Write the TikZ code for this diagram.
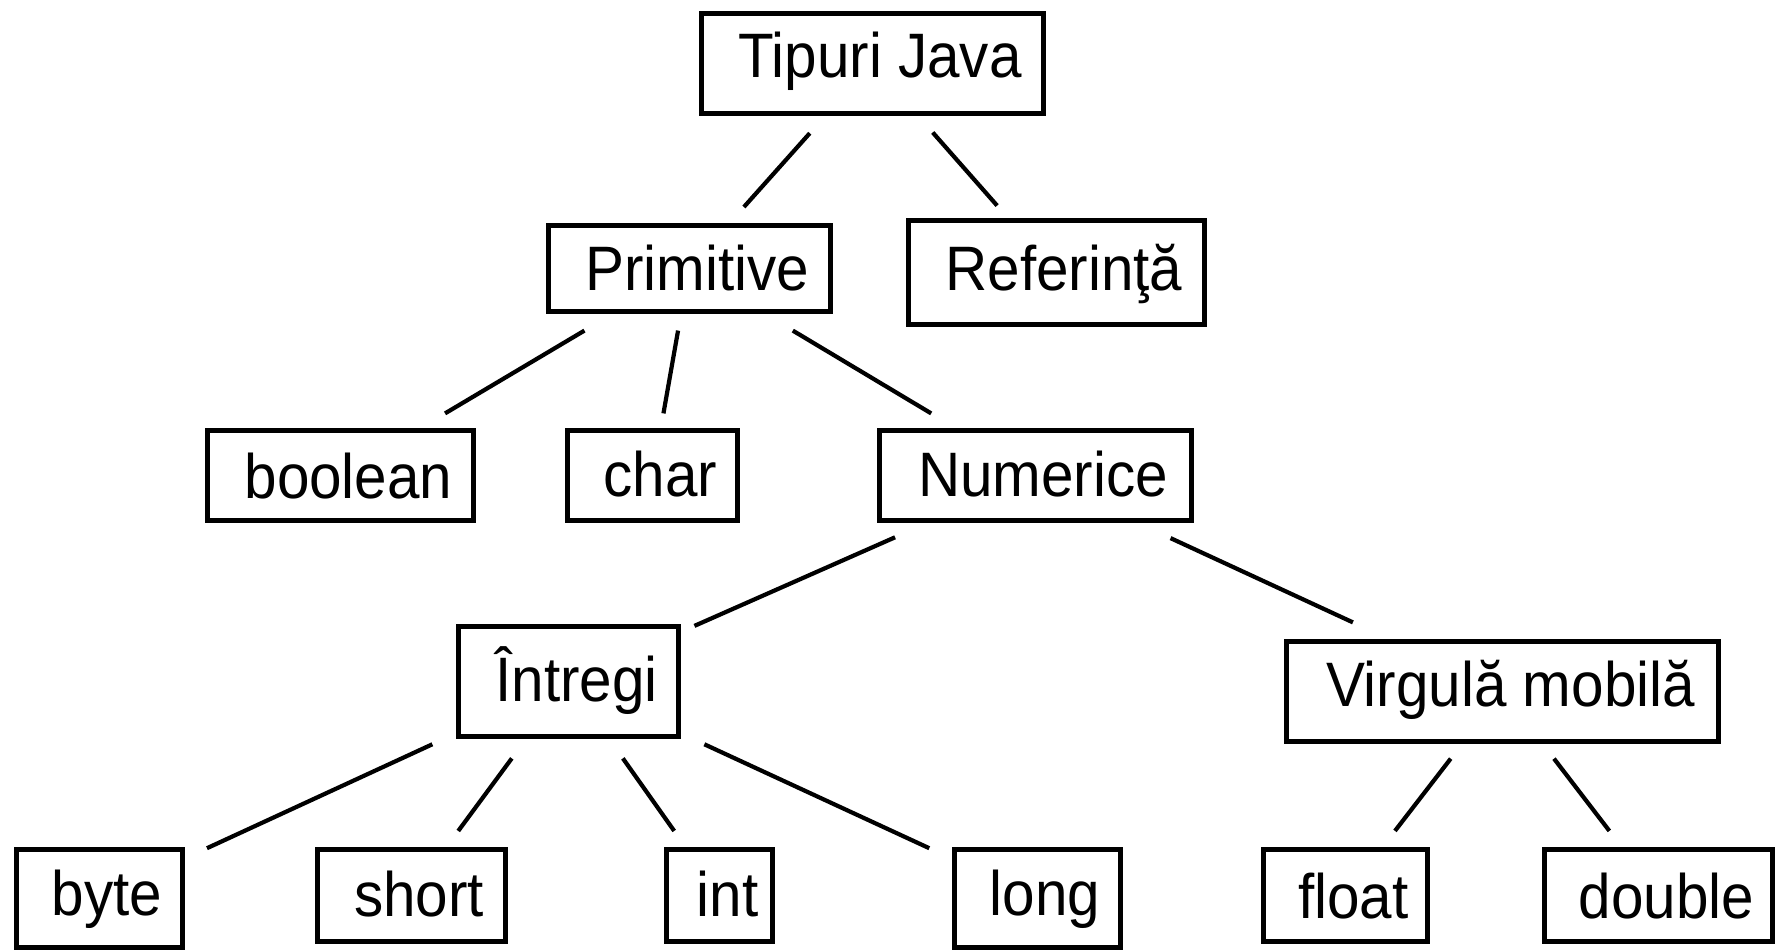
\documentclass[tikz,border=0pt]{standalone}
\usepackage{fontspec}
\setmainfont{Liberation Sans}[FakeStretch=0.93]
\usetikzlibrary{calc}
\begin{document}
\begin{tikzpicture}[x=0.5pt,y=-0.5pt,
  box/.style={draw=black,line width=2.5pt,inner sep=0pt,
    font=\fontsize{31.4}{36}\selectfont,
    text height={(15.25+#1/2)*1pt},text depth={(15.25-#1/2)*1pt}},
  box/.default=14,
  edge/.style={line width=2.1pt,black}]
\useasboundingbox (0,0) rectangle (1782,951);
\newcommand{\lbl}[1]{\hspace*{8pt}#1}
\node[box=14,minimum width=171pt,minimum height=50pt] (tj) at (872,63.5) {\lbl{Tipuri Java}};
\node[box=22,minimum width=141pt,minimum height=43pt] (prim) at (689,268.5) {\lbl{Primitive}};
\node[box=18,minimum width=148pt,minimum height=52pt] (ref) at (1056,272.5) {\lbl{Referinţă}};
\node[box=23,minimum width=133pt,minimum height=45pt] (bool) at (340.5,475.5) {\lbl{boolean}};
\node[box=21,minimum width=85pt,minimum height=45pt] (char) at (652.5,475.5) {\lbl{char}};
\node[box=21,minimum width=156pt,minimum height=45pt] (num) at (1035,475.5) {\lbl{Numerice}};
\node[box=20,minimum width=110pt,minimum height=55pt] (intr) at (568.5,681.5) {\lbl{Întregi}};
\node[box=15,minimum width=216pt,minimum height=50pt] (virg) at (1502.5,691.5) {\lbl{Virgulă mobilă}};
\node[box=17,minimum width=83pt,minimum height=49pt] (byte) at (99,898) {\lbl{byte}};
\node[box=21,minimum width=94pt,minimum height=46pt] (short) at (411,895) {\lbl{short}};
\node[box=21,minimum width=53pt,minimum height=46pt] (int) at (719.5,895) {\lbl{int}};
\node[box=17,minimum width=83pt,minimum height=49pt] (long) at (1037,898) {\lbl{long}};
\node[box=23,minimum width=82pt,minimum height=46pt] (float) at (1345.5,895) {\lbl{float}};
\node[box=23,minimum width=114pt,minimum height=46pt] (double) at (1658.5,895) {\lbl{double}};
\draw[edge] ($(tj.center)!0.34!(prim.center)$) -- ($(tj.center)!0.70!(prim.center)$);
\draw[edge] ($(tj.center)!0.33!(ref.center)$) -- ($(tj.center)!0.68!(ref.center)$);
\draw[edge] ($(prim.center)!0.30!(bool.center)$) -- ($(prim.center)!0.70!(bool.center)$);
\draw[edge] ($(prim.center)!0.30!(char.center)$) -- ($(prim.center)!0.70!(char.center)$);
\draw[edge] ($(prim.center)!0.30!(num.center)$) -- ($(prim.center)!0.70!(num.center)$);
\draw[edge] ($(num.center)!0.30!(intr.center)$) -- ($(num.center)!0.73!(intr.center)$);
\draw[edge] ($(num.center)!0.29!(virg.center)$) -- ($(num.center)!0.68!(virg.center)$);
\draw[edge] ($(intr.center)!0.29!(byte.center)$) -- ($(intr.center)!0.77!(byte.center)$);
\draw[edge] ($(intr.center)!0.36!(short.center)$) -- ($(intr.center)!0.70!(short.center)$);
\draw[edge] ($(intr.center)!0.36!(int.center)$) -- ($(intr.center)!0.70!(int.center)$);
\draw[edge] ($(intr.center)!0.29!(long.center)$) -- ($(intr.center)!0.77!(long.center)$);
\draw[edge] ($(virg.center)!0.33!(float.center)$) -- ($(virg.center)!0.685!(float.center)$);
\draw[edge] ($(virg.center)!0.33!(double.center)$) -- ($(virg.center)!0.685!(double.center)$);
\end{tikzpicture}
\end{document}
